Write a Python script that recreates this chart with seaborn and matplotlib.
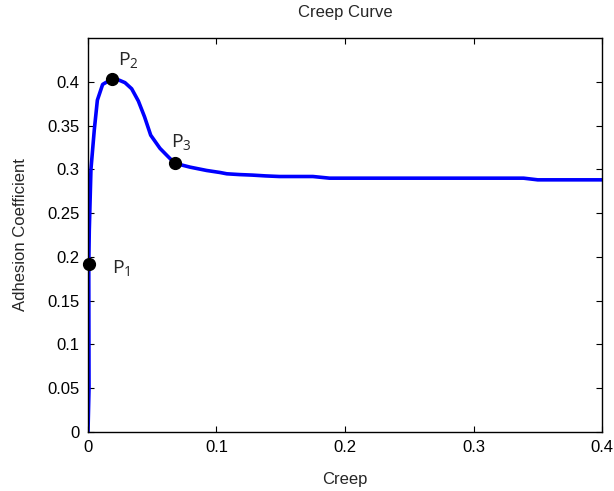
import numpy as np
import seaborn as sns
import matplotlib.pyplot as plt
import pandas as pd

# creep curve
creep = [0.0, 0.0008, 0.0006, 0.0010, 0.0023, 0.0049, 0.0073, 0.0114, 0.0184,
         0.0240, 0.0288, 0.0340, 0.0392, 0.0440, 0.0488, 0.0560, 0.0620, 0.0675,
         0.0794, 0.0923, 0.1027, 0.1080, 0.1180, 0.1280, 0.1380, 0.1490, 0.1750,
         0.1880, 0.2500, 0.3000, 0.3390, 0.3500, 0.4000]
adhesion = [0.0, 0.05, 0.19, 0.23, 0.30, 0.345, 0.379, 0.397, 0.403,
            0.402, 0.399, 0.392, 0.378, 0.360, 0.339, 0.324, 0.315, 0.307,
            0.3025, 0.2987, 0.2964, 0.2949, 0.2940, 0.2934, 0.2925, 0.2918, 0.2918,
            0.2899, 0.2899, 0.2899, 0.2899, 0.2880, 0.2880]

pt_x = [0.0005, 0.0184, 0.0675]
pt_y = [0.192, 0.403, 0.307]
pt_names = ['P$_1$', 'P$_2$', 'P$_3$']

df = pd.DataFrame({'Creep': creep, 'Adhesion': adhesion})

sns.set_style('white')
plt.rcParams['font.family'] = ['Liberation Sans', 'DejaVu Sans']
plt.rcParams['mathtext.fontset'] = 'custom'
plt.rcParams['mathtext.rm'] = 'Open Sans'
plt.rcParams['mathtext.it'] = 'Open Sans'

fig = plt.figure(figsize=(6.14, 4.91), dpi=100)
ax = fig.add_axes([0.1433, 0.1202, 0.8372, 0.8024])

sns.lineplot(data=df, x='Creep', y='Adhesion', sort=False, color='#0000ff',
             linewidth=2.6, ax=ax)
ax.plot(pt_x, pt_y, 'o', color='black', markersize=8.5, zorder=5, clip_on=False)

# label anchors (left edge, baseline) next to each point
label_pos = [(0.0187, 0.1816), (0.0233, 0.419), (0.0643, 0.3258)]
for (lx, ly), name in zip(label_pos, pt_names):
    ax.text(lx, ly, name, fontsize=14, fontfamily='Open Sans',
            ha='left', va='baseline')

ax.set_xlim(0, 0.4)
ax.set_ylim(0, 0.45)
ax.set_xticks([0, 0.1, 0.2, 0.3, 0.4])
ax.set_xticklabels(['0', '0.1', '0.2', '0.3', '0.4'])
ax.set_yticks(np.arange(0, 0.41, 0.05))
ax.set_yticklabels(['0', '0.05', '0.1', '0.15', '0.2', '0.25', '0.3', '0.35', '0.4'])
ax.tick_params(direction='in', length=4, width=0.8, labelsize=12,
               top=True, right=True, bottom=True, left=True, colors='black', pad=6)
for s in ax.spines.values():
    s.set_color('black')
    s.set_linewidth(1.0)

ax.set_title('Creep Curve', fontsize=12, pad=15)
ax.set_xlabel('Creep', fontsize=12, labelpad=12)
ax.set_ylabel('Adhesion Coefficient', fontsize=12, labelpad=14)

fig.savefig('out.png', dpi=100)
